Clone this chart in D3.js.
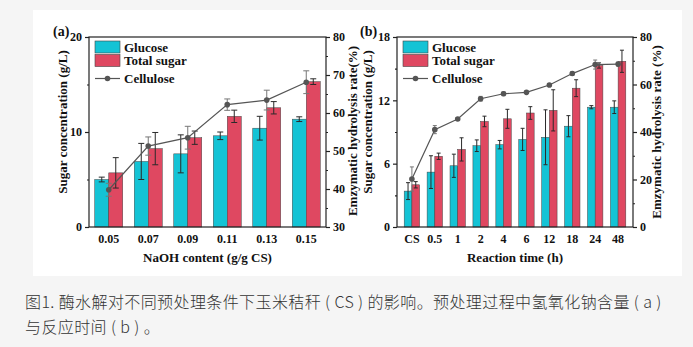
<!DOCTYPE html>
<html lang="zh">
<head>
<meta charset="utf-8">
<title>Enzymatic hydrolysis of corn stover</title>
<script src="https://cdn.jsdelivr.net/npm/d3@7/dist/d3.min.js"></script>
<style>
  body { margin: 0; background: #f5f5f5; }
  svg text { font-family: "Liberation Serif", "Times New Roman", serif; font-weight: bold; fill: #111; }
  svg text.caption { font-family: "Noto Sans CJK SC", sans-serif; font-weight: 300; fill: #333; letter-spacing: 0.4px; }
</style>
</head>
<body>
<svg id="fig" width="693" height="347"></svg>
<script>
// panel (a): NaOH loading
var naohLabels = ["0.05", "0.07", "0.09", "0.11", "0.13", "0.15"];
var naohGlucose = [5.0, 6.9, 7.7, 9.6, 10.4, 11.35];
var naohGlucoseErr = [0.25, 1.9, 2.0, 0.4, 1.25, 0.25];
var naohTotal = [5.7, 8.25, 9.4, 11.65, 12.55, 15.3];
var naohTotalErr = [1.6, 1.7, 0.7, 0.65, 0.65, 0.3];
var naohCellulose = [39.8, 51.3, 53.5, 62.2, 63.4, 68.1];
var naohCelluloseErr = [1.7, 2.4, 3.0, 1.5, 2.6, 3.0];

// panel (b): reaction time
var timeLabels = ["CS", "0.5", "1", "2", "4", "6", "12", "18", "24", "48"];
var timeGlucose = [3.4, 5.2, 5.8, 7.7, 7.8, 8.3, 8.5, 9.55, 11.35, 11.35];
var timeGlucoseErr = [0.8, 1.55, 1.1, 0.55, 0.4, 1.05, 2.6, 1.0, 0.15, 0.6];
var timeTotal = [4.0, 6.7, 7.35, 10.0, 10.25, 10.8, 11.05, 13.15, 15.3, 15.7];
var timeTotalErr = [0.3, 0.3, 1.1, 0.5, 0.9, 0.6, 1.95, 0.8, 0.25, 1.05];
var timeCellulose = [20.2, 41.0, 45.5, 54.0, 56.1, 56.7, 59.8, 64.6, 68.4, 68.6];
var timeCelluloseErr = [5.1, 1.7, 0.5, 1.0, 0.8, 0.5, 0.5, 0.8, 1.9, 0.8];

var glucoseColor = "#14c3d5", totalColor = "#df4861", lineColor = "#555";

var svg = d3.select("#fig");

// white figure sheet
svg.append("rect").attr("x", 33).attr("y", 10).attr("width", 649).attr("height", 266).attr("fill", "#fff");

function drawPanel(p) {
  var g = svg.append("g");
  var x = d3.scaleBand().domain(p.labels).range([p.left, p.right]).paddingOuter(p.outer);
  var yL = d3.scaleLinear().domain(p.leftDomain).range([p.bottom, p.top]);
  var yR = d3.scaleLinear().domain(p.rightDomain).range([p.bottom, p.top]);
  var bw = p.barWidth;

  function bars(vals, errs, color, offset) {
    g.append("g").selectAll("rect").data(vals).join("rect")
      .attr("x", function(d, i) { return x(p.labels[i]) + x.bandwidth() / 2 + offset; })
      .attr("y", function(d) { return yL(d); })
      .attr("width", bw)
      .attr("height", function(d) { return p.bottom - yL(d); })
      .attr("fill", color).attr("stroke", "#444").attr("stroke-width", 0.5);
    errorBars(vals, errs, yL, offset + bw / 2, "#2a2a2a", p.cap);
  }

  function errorBars(vals, errs, y, offset, color, cap) {
    var eg = g.append("g").attr("stroke", color).attr("stroke-width", 1).attr("fill", "none");
    vals.forEach(function(v, i) {
      var cx = x(p.labels[i]) + x.bandwidth() / 2 + offset;
      var lo = y(v - errs[i]), hi = y(v + errs[i]);
      eg.append("line").attr("x1", cx).attr("x2", cx).attr("y1", lo).attr("y2", hi);
      eg.append("line").attr("x1", cx - cap / 2).attr("x2", cx + cap / 2).attr("y1", lo).attr("y2", lo);
      eg.append("line").attr("x1", cx - cap / 2).attr("x2", cx + cap / 2).attr("y1", hi).attr("y2", hi);
    });
  }

  bars(p.glucose, p.glucoseErr, glucoseColor, -bw);
  bars(p.total, p.totalErr, totalColor, 0);

  // cellulose conversion line on the right axis
  var line = d3.line()
    .x(function(d, i) { return x(p.labels[i]) + x.bandwidth() / 2; })
    .y(function(d) { return yR(d); });
  g.append("path").datum(p.cellulose).attr("d", line)
    .attr("fill", "none").attr("stroke", lineColor).attr("stroke-width", 1.2);
  errorBars(p.cellulose, p.celluloseErr, yR, 0, "#777", p.cap);
  g.append("g").selectAll("circle").data(p.cellulose).join("circle")
    .attr("cx", function(d, i) { return x(p.labels[i]) + x.bandwidth() / 2; })
    .attr("cy", function(d) { return yR(d); })
    .attr("r", 2.8).attr("fill", lineColor);

  // axes
  var axL = d3.axisLeft(yL).tickValues(p.leftTicks).tickSize(4).tickPadding(3);
  var axLm = d3.axisLeft(yL).tickValues(p.leftMinor).tickSize(2).tickFormat("");
  var axR = d3.axisRight(yR).tickValues(p.rightTicks).tickSize(4).tickPadding(3);
  var axRm = d3.axisRight(yR).tickValues(p.rightMinor).tickSize(2).tickFormat("");
  var axB = d3.axisBottom(x).tickSize(0).tickPadding(7);

  [[axL, p.left], [axLm, p.left], [axR, p.right], [axRm, p.right]].forEach(function(a) {
    var ag = g.append("g").attr("transform", "translate(" + a[1] + ",0)").call(a[0]);
    ag.select(".domain").remove();
    ag.selectAll("line").attr("stroke", "#222").attr("stroke-width", 1.2);
    ag.selectAll("text").style("font-size", "12px");
  });
  var bg = g.append("g").attr("transform", "translate(0," + p.bottom + ")").call(axB);
  bg.select(".domain").remove();
  bg.selectAll("text").style("font-size", "12px");

  // frame
  g.append("rect").attr("x", p.left).attr("y", p.top)
    .attr("width", p.right - p.left).attr("height", p.bottom - p.top)
    .attr("fill", "none").attr("stroke", "#222").attr("stroke-width", 1.2);

  // titles
  g.append("text").attr("x", (p.left + p.right) / 2).attr("y", p.bottom + 35)
    .attr("text-anchor", "middle").style("font-size", "13px").text(p.xTitle);
  g.append("text").attr("transform", "translate(" + p.leftTitleX + "," + p.leftTitleY + ") rotate(-90)")
    .attr("text-anchor", "middle").style("font-size", "13px").text("Sugar concentration (g/L)");
  g.append("text").attr("transform", "translate(" + p.rightTitleX + "," + p.rightTitleY + ") rotate(-90)")
    .attr("text-anchor", "middle").style("font-size", "13px").text(p.rightTitle);
  g.append("text").attr("x", p.tagX).attr("y", p.top - 1).style("font-size", "14px").text(p.tag);

  // legend
  var lx = p.left + 6, ly = p.top + 4;
  [["Glucose", glucoseColor], ["Total sugar", totalColor]].forEach(function(e, i) {
    g.append("rect").attr("x", lx).attr("y", ly + i * 13.5).attr("width", 25).attr("height", 12)
      .attr("fill", e[1]).attr("stroke", "#444").attr("stroke-width", 0.6);
    g.append("text").attr("x", lx + 29).attr("y", ly + i * 13.5 + 10.5).style("font-size", "13px").text(e[0]);
  });
  var cy = ly + 37.5;
  g.append("line").attr("x1", lx).attr("x2", lx + 25).attr("y1", cy).attr("y2", cy)
    .attr("stroke", lineColor).attr("stroke-width", 1.2);
  g.append("circle").attr("cx", lx + 12.5).attr("cy", cy).attr("r", 2.8).attr("fill", lineColor);
  g.append("text").attr("x", lx + 29).attr("y", cy + 4.5).style("font-size", "13px").text("Cellulose");
}

drawPanel({
  labels: naohLabels, glucose: naohGlucose, glucoseErr: naohGlucoseErr,
  total: naohTotal, totalErr: naohTotalErr, cellulose: naohCellulose, celluloseErr: naohCelluloseErr,
  left: 89, right: 326, top: 37, bottom: 227, outer: 0, barWidth: 14, cap: 6,
  leftDomain: [0, 20], leftTicks: [0, 10, 20], leftMinor: [5, 15],
  rightDomain: [30, 80], rightTicks: [30, 40, 50, 60, 70, 80], rightMinor: [35, 45, 55, 65, 75],
  xTitle: "NaOH content (g/g CS)", rightTitle: "Emzymatic hydrolysis rate(%)",
  leftTitleX: 67, leftTitleY: 122, rightTitleX: 357, rightTitleY: 131,
  tag: "(a)", tagX: 53
});

drawPanel({
  labels: timeLabels, glucose: timeGlucose, glucoseErr: timeGlucoseErr,
  total: timeTotal, totalErr: timeTotalErr, cellulose: timeCellulose, celluloseErr: timeCelluloseErr,
  left: 397, right: 633, top: 37, bottom: 227, outer: 0.15, barWidth: 7.7, cap: 4,
  leftDomain: [0, 18], leftTicks: [0, 6, 12, 18], leftMinor: [3, 9, 15],
  rightDomain: [0, 80], rightTicks: [0, 20, 40, 60, 80], rightMinor: [10, 30, 50, 70],
  xTitle: "Reaction time (h)", rightTitle: "Emzymatic hydrolysis rate (%)",
  leftTitleX: 372, leftTitleY: 122, rightTitleX: 661, rightTitleY: 132,
  tag: "(b)", tagX: 360
});

// caption
var caption = ["图1. 酶水解对不同预处理条件下玉米秸秆 ( CS ) 的影响。预处理过程中氢氧化钠含量 ( a )",
               "与反应时间 ( b ) 。"];
svg.selectAll("text.caption").data(caption).join("text").attr("class", "caption")
  .attr("x", 25).attr("y", function(d, i) { return 308 + i * 25; })
  .style("font-size", "16px").text(function(d) { return d; });
</script>
</body>
</html>
